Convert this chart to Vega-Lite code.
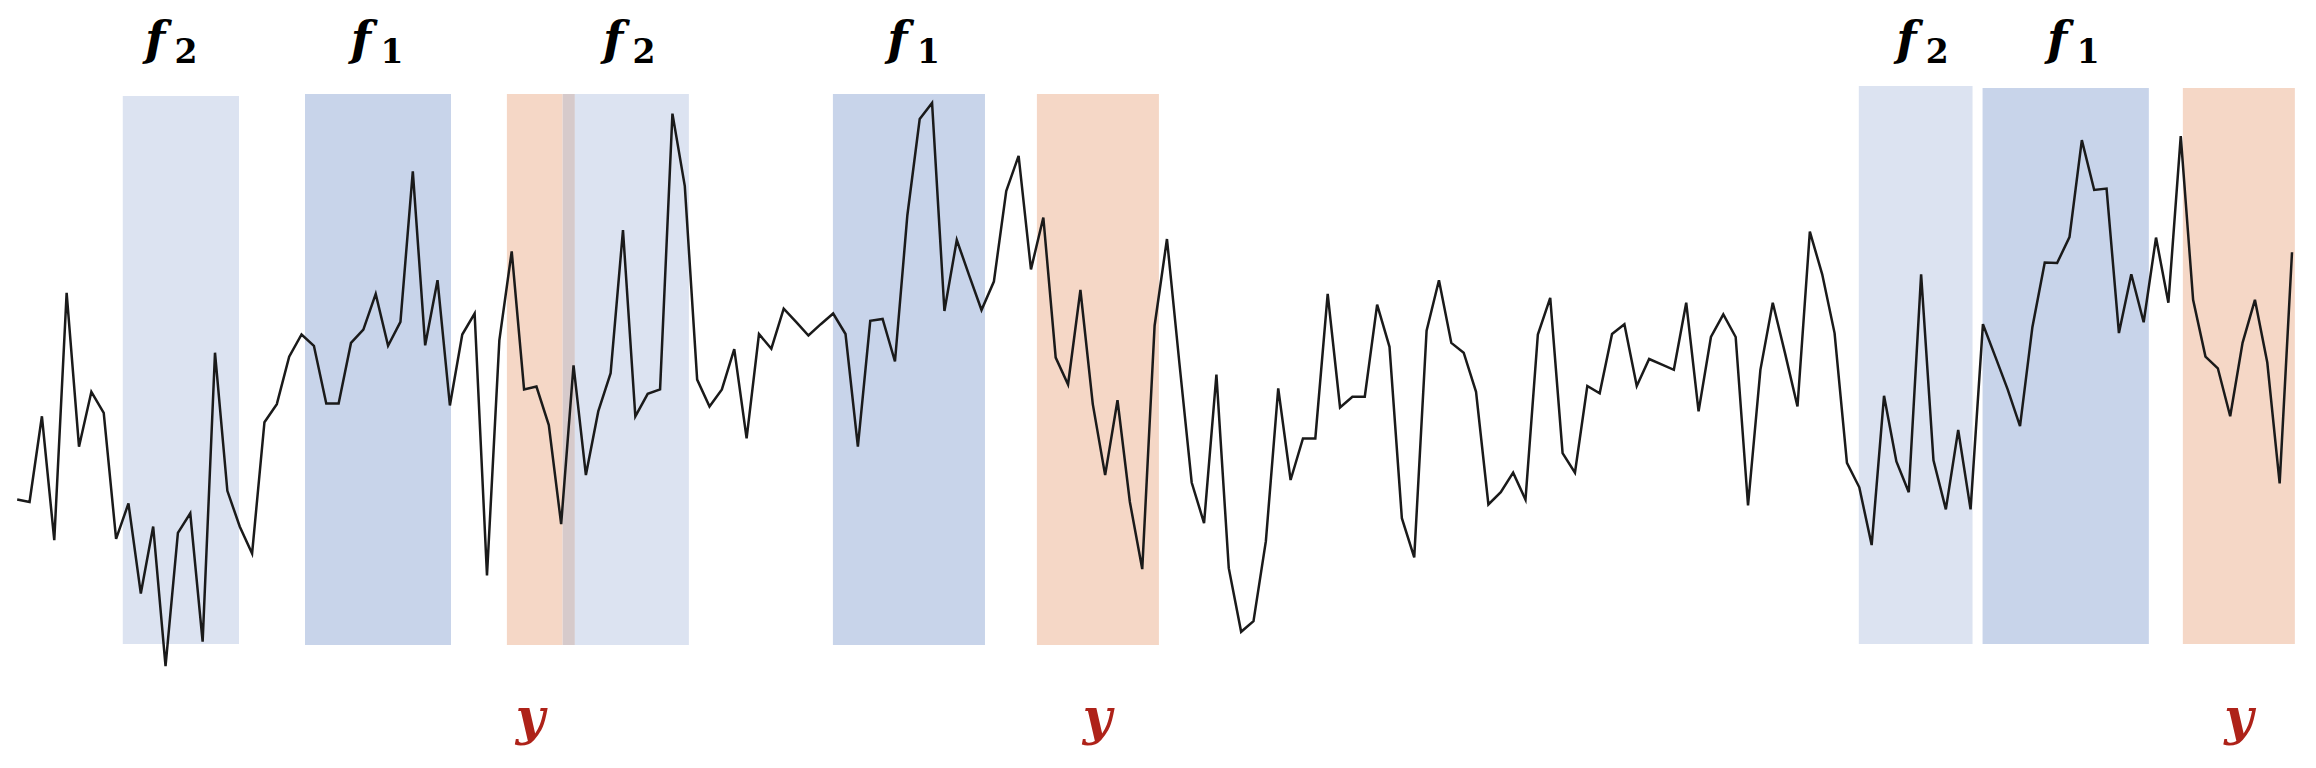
{
  "$schema": "https://vega.github.io/schema/vega-lite/v6.json",
  "width": 2316,
  "height": 768,
  "autosize": {"type": "fit", "contains": "padding"},
  "padding": 0,
  "background": "white",
  "config": {"view": {"stroke": null}},
  "datasets": {
    "bands": [
      {"kind": "f2", "t0": 8.54, "t1": 17.94, "v0": 672, "v1": 124},
      {"kind": "f1", "t0": 23.28, "t1": 35.09, "v0": 674, "v1": 123},
      {"kind": "y", "t0": 39.61, "t1": 44.12, "v0": 674, "v1": 123},
      {"kind": "overlap", "t0": 44.12, "t1": 45.11, "v0": 674, "v1": 123},
      {"kind": "f2", "t0": 45.11, "t1": 54.33, "v0": 674, "v1": 123},
      {"kind": "f1", "t0": 65.98, "t1": 78.28, "v0": 674, "v1": 123},
      {"kind": "y", "t0": 82.48, "t1": 92.35, "v0": 674, "v1": 123},
      {"kind": "f2", "t0": 148.96, "t1": 158.16, "v0": 682, "v1": 124},
      {"kind": "f1", "t0": 158.97, "t1": 172.42, "v0": 680, "v1": 124},
      {"kind": "y", "t0": 175.17, "t1": 184.23, "v0": 680, "v1": 124}
    ],
    "labels": [
      {"t": 11.15, "base": "f", "sub": "2"},
      {"t": 27.8, "base": "f", "sub": "1"},
      {"t": 48.2, "base": "f", "sub": "2"},
      {"t": 71.2, "base": "f", "sub": "1"},
      {"t": 152.8, "base": "f", "sub": "2"},
      {"t": 165.0, "base": "f", "sub": "1"}
    ],
    "targets": [
      {"t": 41.5, "label": "y"},
      {"t": 87.37, "label": "y"},
      {"t": 179.7, "label": "y"}
    ],
    "series": [
      {"t":0,"v":268.4},{"t":1,"v":266.0},{"t":2,"v":351.7},{"t":3,"v":227.8},{"t":4,"v":475.1},
      {"t":5,"v":321.3},{"t":6,"v":376.2},{"t":7,"v":355.1},{"t":8,"v":229.2},{"t":9,"v":264.5},
      {"t":10,"v":174.4},{"t":11,"v":241.5},{"t":12,"v":101.9},{"t":13,"v":235.1},{"t":14,"v":254.7},
      {"t":15,"v":126.4},{"t":16,"v":415.3},{"t":17,"v":277.2},{"t":18,"v":241.5},{"t":19,"v":214.5},
      {"t":20,"v":345.8},{"t":21,"v":363.9},{"t":22,"v":411.4},{"t":23,"v":433.5},{"t":24,"v":422.2},
      {"t":25,"v":364.4},{"t":26,"v":364.4},{"t":27,"v":425.1},{"t":28,"v":438.4},{"t":29,"v":474.1},
      {"t":30,"v":422.2},{"t":31,"v":446.2},{"t":32,"v":596.6},{"t":33,"v":422.7},{"t":34,"v":487.8},
      {"t":35,"v":362.5},{"t":36,"v":433.5},{"t":37,"v":454.5},{"t":38,"v":192.5},{"t":39,"v":427.6},
      {"t":40,"v":516.7},{"t":41,"v":378.6},{"t":42,"v":381.5},{"t":43,"v":342.9},{"t":44,"v":243.9},
      {"t":45,"v":402.6},{"t":46,"v":292.9},{"t":47,"v":356.6},{"t":48,"v":394.8},{"t":49,"v":537.8},
      {"t":50,"v":351.7},{"t":51,"v":374.2},{"t":52,"v":378.6},{"t":53,"v":654.4},{"t":54,"v":581.9},
      {"t":55,"v":388.4},{"t":56,"v":361.5},{"t":57,"v":378.6},{"t":58,"v":418.8},{"t":59,"v":329.6},
      {"t":60,"v":434.0},{"t":61,"v":419.3},{"t":62,"v":459.4},{"t":63,"v":446.2},{"t":64,"v":432.5},
      {"t":65,"v":443.8},{"t":66,"v":454.5},{"t":67,"v":434.0},{"t":68,"v":321.3},{"t":69,"v":447.2},
      {"t":70,"v":449.1},{"t":71,"v":406.5},{"t":72,"v":552.5},{"t":73,"v":649.0},{"t":74,"v":665.1},
      {"t":75,"v":457.0},{"t":76,"v":528.0},{"t":77,"v":492.7},{"t":78,"v":458.0},{"t":79,"v":486.4},
      {"t":80,"v":577.0},{"t":81,"v":612.2},{"t":82,"v":498.6},{"t":83,"v":550.5},{"t":84,"v":410.4},
      {"t":85,"v":383.5},{"t":86,"v":478.0},{"t":87,"v":363.9},{"t":88,"v":292.9},{"t":89,"v":367.8},
      {"t":90,"v":266.0},{"t":91,"v":198.9},{"t":92,"v":442.3},{"t":93,"v":529.0},{"t":94,"v":405.5},
      {"t":95,"v":285.5},{"t":96,"v":244.9},{"t":97,"v":393.3},{"t":98,"v":199.8},{"t":99,"v":136.2},
      {"t":100,"v":146.9},{"t":101,"v":226.8},{"t":102,"v":379.6},{"t":103,"v":288.0},{"t":104,"v":329.6},
      {"t":105,"v":329.6},{"t":106,"v":474.1},{"t":107,"v":360.5},{"t":108,"v":371.3},{"t":109,"v":371.3},
      {"t":110,"v":463.3},{"t":111,"v":421.2},{"t":112,"v":249.8},{"t":113,"v":210.6},{"t":114,"v":437.4},
      {"t":115,"v":487.8},{"t":116,"v":425.1},{"t":117,"v":415.3},{"t":118,"v":376.2},{"t":119,"v":263.5},
      {"t":120,"v":275.8},{"t":121,"v":295.3},{"t":122,"v":268.4},{"t":123,"v":433.5},{"t":124,"v":470.2},
      {"t":125,"v":314.9},{"t":126,"v":295.3},{"t":127,"v":382.0},{"t":128,"v":374.7},{"t":129,"v":434.0},
      {"t":130,"v":443.8},{"t":131,"v":382.0},{"t":132,"v":409.0},{"t":133,"v":403.6},{"t":134,"v":398.2},
      {"t":135,"v":465.3},{"t":136,"v":356.6},{"t":137,"v":431.0},{"t":138,"v":453.6},{"t":139,"v":431.0},
      {"t":140,"v":262.5},{"t":141,"v":398.2},{"t":142,"v":465.3},{"t":143,"v":414.4},{"t":144,"v":361.5},
      {"t":145,"v":536.3},{"t":146,"v":493.7},{"t":147,"v":434.9},{"t":148,"v":305.1},{"t":149,"v":280.7},
      {"t":150,"v":222.9},{"t":151,"v":372.2},{"t":152,"v":306.6},{"t":153,"v":275.8},{"t":154,"v":493.7},
      {"t":155,"v":307.6},{"t":156,"v":258.6},{"t":157,"v":338.0},{"t":158,"v":258.6},{"t":159,"v":443.8},
      {"t":160,"v":411.4},{"t":161,"v":378.6},{"t":162,"v":341.9},{"t":163,"v":440.8},{"t":164,"v":505.5},
      {"t":165,"v":505.0},{"t":166,"v":530.9},{"t":167,"v":627.9},{"t":168,"v":578.0},{"t":169,"v":579.4},
      {"t":170,"v":434.9},{"t":171,"v":493.7},{"t":172,"v":445.7},{"t":173,"v":530.4},{"t":174,"v":465.3},
      {"t":175,"v":631.8},{"t":176,"v":468.2},{"t":177,"v":411.4},{"t":178,"v":399.7},{"t":179,"v":351.7},
      {"t":180,"v":425.1},{"t":181,"v":468.2},{"t":182,"v":405.5},{"t":183,"v":284.6},{"t":184,"v":515.8}
    ]
  },
  "resolve": {"scale": {"x": "shared", "y": "shared"}},
  "layer": [
    {
      "data": {"name": "bands"},
      "mark": {"type": "rect"},
      "encoding": {
        "x": {"field": "t0", "type": "quantitative", "scale": {"domain": [-1.39, 185.94], "nice": false, "zero": false}, "axis": null},
        "x2": {"field": "t1"},
        "y": {"field": "v0", "type": "quantitative", "scale": {"domain": [0, 768], "nice": false, "zero": false}, "axis": null},
        "y2": {"field": "v1"},
        "color": {"field": "kind", "type": "nominal", "legend": null,
          "scale": {"domain": ["f2", "f1", "y", "overlap"], "range": ["#DCE3F1", "#C8D4EA", "#F5D7C6", "#D6CACB"]}}
      }
    },
    {
      "data": {"name": "series"},
      "mark": {"type": "line", "color": "#1a1a1a", "strokeWidth": 2.5, "strokeJoin": "miter"},
      "encoding": {
        "x": {"field": "t", "type": "quantitative"},
        "y": {"field": "v", "type": "quantitative"}
      }
    },
    {
      "data": {"name": "labels"},
      "mark": {"type": "text", "font": "DejaVu Serif", "fontSize": 47, "fontWeight": "bold", "fontStyle": "italic", "color": "#000000", "baseline": "alphabetic", "align": "center"},
      "encoding": {
        "x": {"field": "t", "type": "quantitative"},
        "y": {"datum": 713},
        "text": {"field": "base"}
      }
    },
    {
      "data": {"name": "labels"},
      "mark": {"type": "text", "font": "DejaVu Serif", "fontSize": 33, "fontWeight": "bold", "color": "#000000", "baseline": "alphabetic", "align": "center", "dx": 31},
      "encoding": {
        "x": {"field": "t", "type": "quantitative"},
        "y": {"datum": 705},
        "text": {"field": "sub"}
      }
    },
    {
      "data": {"name": "targets"},
      "mark": {"type": "text", "font": "DejaVu Serif", "fontSize": 50, "fontWeight": "bold", "fontStyle": "italic", "color": "#AE2219", "baseline": "alphabetic", "align": "center"},
      "encoding": {
        "x": {"field": "t", "type": "quantitative"},
        "y": {"datum": 34},
        "text": {"field": "label"}
      }
    }
  ]
}
